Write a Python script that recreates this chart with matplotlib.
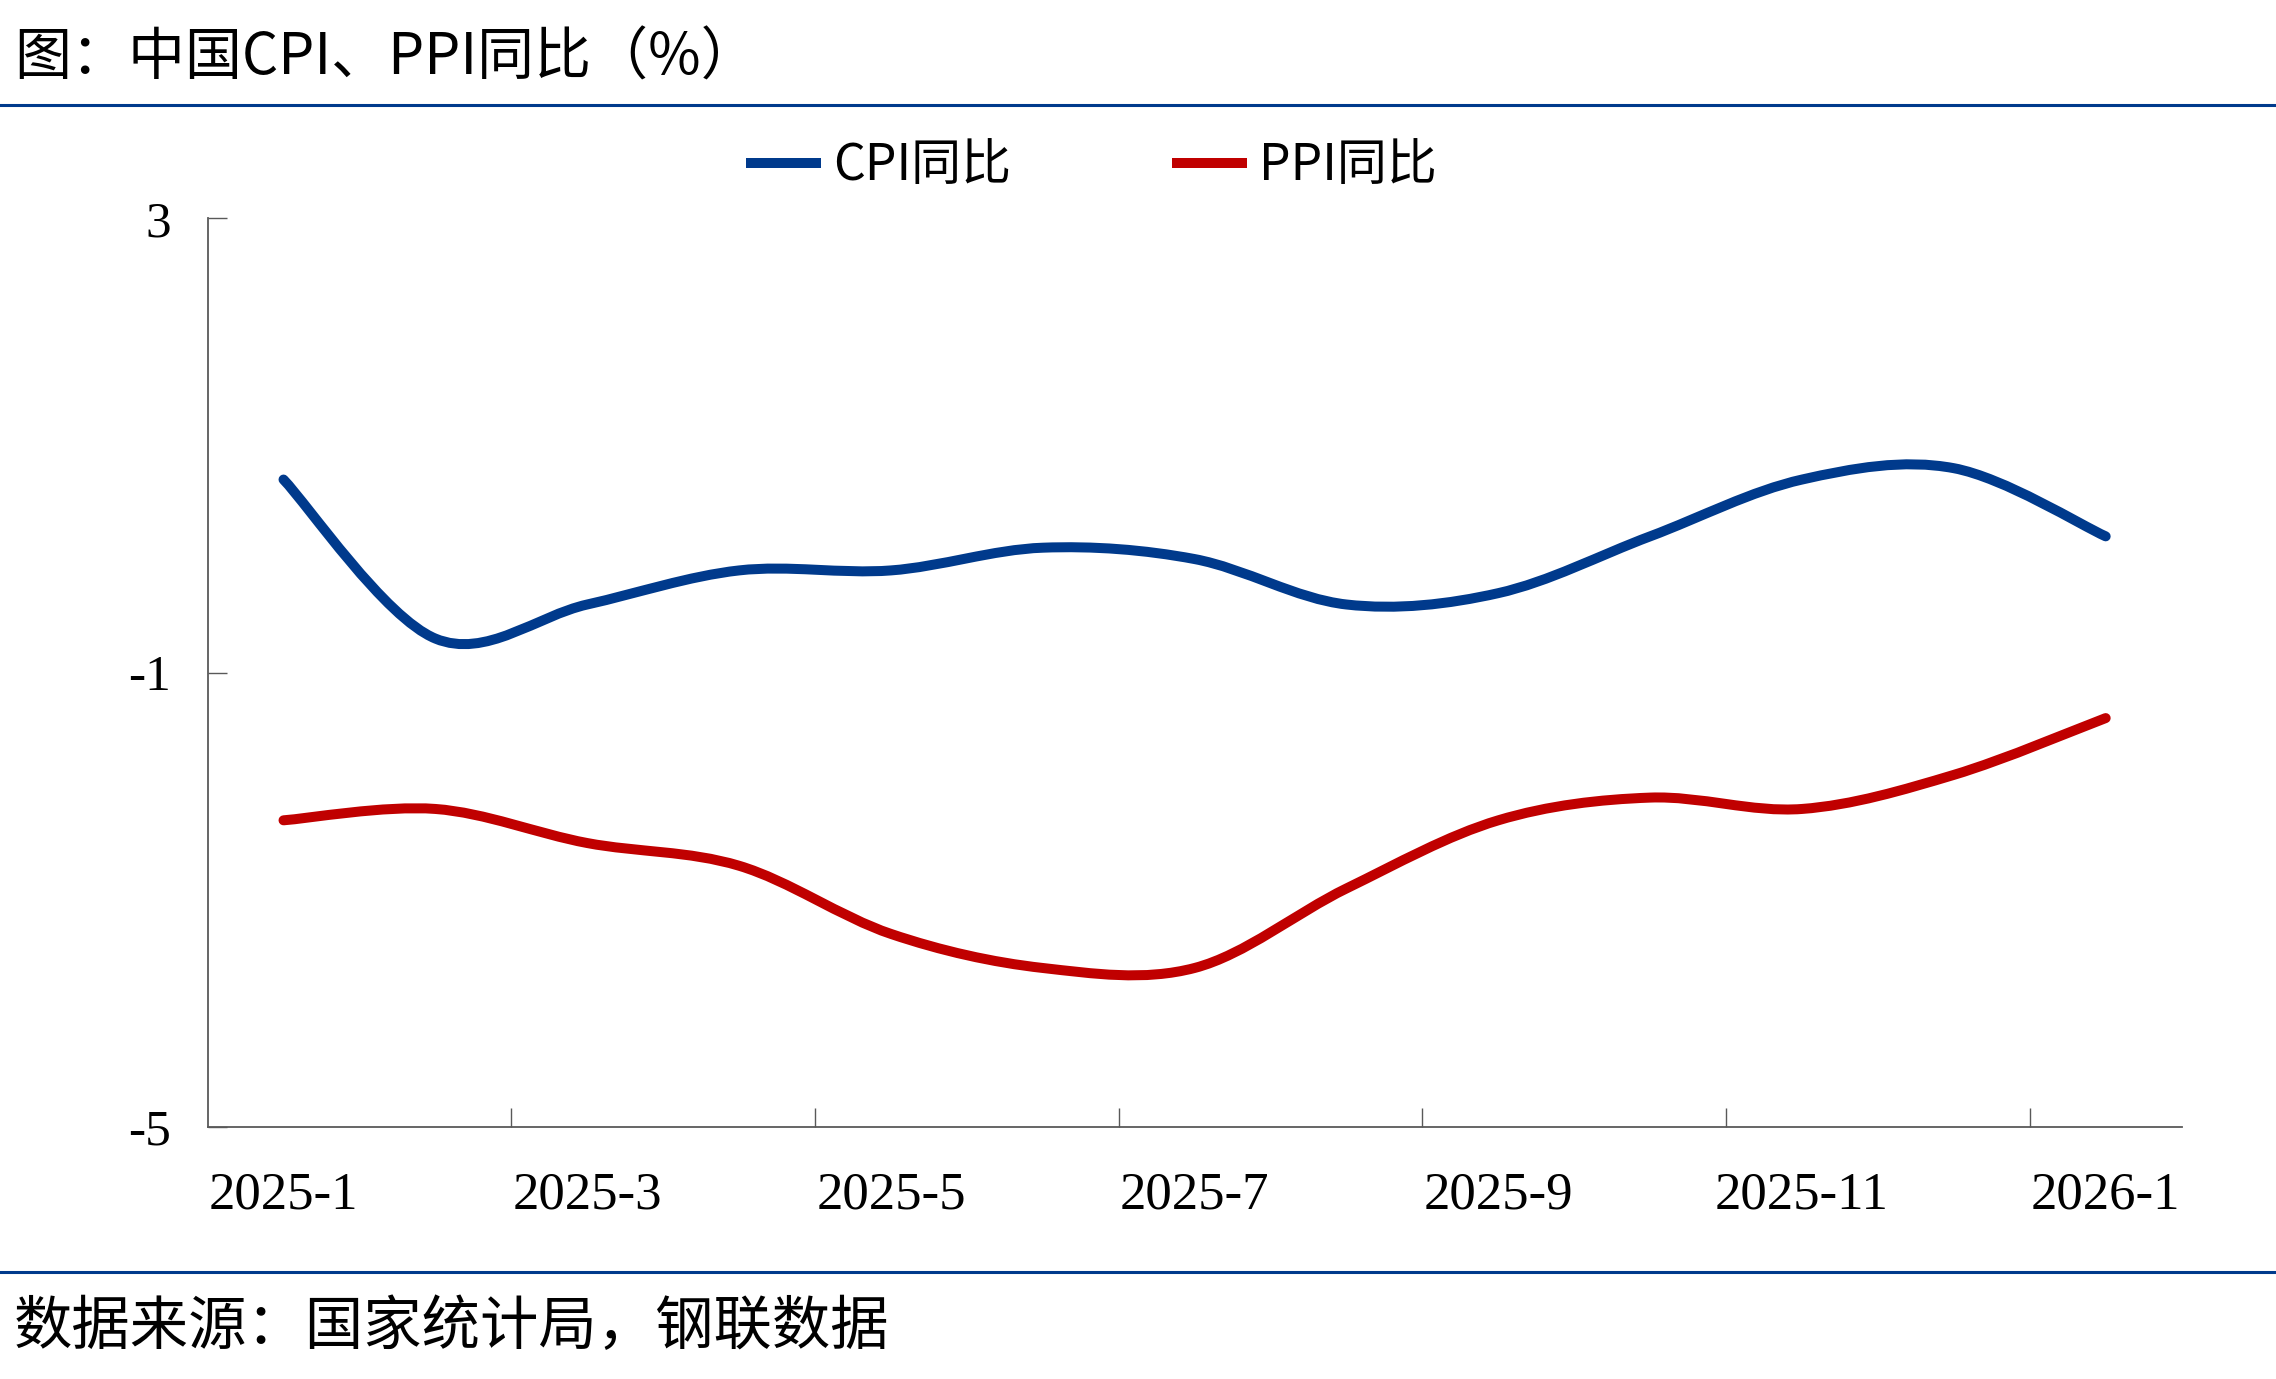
import matplotlib
matplotlib.use("Agg")
import matplotlib.pyplot as plt
from matplotlib.path import Path
from matplotlib.patches import PathPatch
from matplotlib.lines import Line2D
import numpy as np

# ---------------- data ----------------
months = ["2025-1", "2025-2", "2025-3", "2025-4", "2025-5", "2025-6", "2025-7",
          "2025-8", "2025-9", "2025-10", "2025-11", "2025-12", "2026-1"]
cpi = [0.7, -0.7, -0.4, -0.1, -0.1, 0.1, 0.0, -0.4, -0.3, 0.2, 0.7, 0.8, 0.2]
ppi = [-2.3, -2.2, -2.5, -2.7, -3.3, -3.6, -3.6, -2.9, -2.3, -2.1, -2.2, -1.9, -1.4]
series_names = ["CPI同比", "PPI同比"]
y_ticks = [-5, -1, 3]

title_text = "图：中国CPI、PPI同比（%）"
source_text = "数据来源：国家统计局，钢联数据"

# ---------------- style ----------------
CJK = ["Noto Sans CJK SC", "DejaVu Sans"]
SERIF = ["Liberation Serif", "DejaVu Serif"]
BLUE = "#003A8C"
RED = "#C00000"
AXC = "#595959"

W, H, DPI = 2276, 1379, 100
fig = plt.figure(figsize=(W / DPI, H / DPI), dpi=DPI)
fig.patch.set_facecolor("white")

ax = fig.add_axes([207.6 / W, 1 - 1127 / H, (2181.6 - 207.6) / W, (1127 - 218.3) / H])


def smooth_path(xs, ys):
    """Excel-like smoothed line: cubic Bezier through every data point."""
    P = np.column_stack([xs, ys]).astype(float)
    n = len(P)
    verts = [tuple(P[0])]
    codes = [Path.MOVETO]
    for i in range(n - 1):
        p_prev = P[i - 1] if i > 0 else P[i]
        p_next2 = P[i + 2] if i + 2 < n else P[i + 1]
        c1 = P[i] + (P[i + 1] - p_prev) / 6.0
        c2 = P[i + 1] - (p_next2 - P[i]) / 6.0
        verts += [tuple(c1), tuple(c2), tuple(P[i + 1])]
        codes += [Path.CURVE4] * 3
    return Path(verts, codes)


x = np.arange(len(months))
LW = 7.2
for vals, col in [(cpi, BLUE), (ppi, RED)]:
    patch = PathPatch(smooth_path(x, vals), facecolor="none", edgecolor=col,
                      lw=LW, capstyle="round", joinstyle="round", zorder=3)
    ax.add_patch(patch)

ax.set_xlim(-0.5, len(months) - 0.5)
ax.set_ylim(min(y_ticks), max(y_ticks))

# spines
for s in ["top", "right"]:
    ax.spines[s].set_visible(False)
for s in ["left", "bottom"]:
    ax.spines[s].set_color(AXC)
    ax.spines[s].set_linewidth(1.3)

# y ticks
ax.set_yticks(y_ticks)
ax.set_yticklabels([str(v) for v in y_ticks], family=SERIF, fontsize=37)
ax.tick_params(axis="y", direction="in", length=14, width=1.0, color=AXC, pad=26)

# x ticks: marks at category boundaries every 2 categories, labels every 2 categories
ax.set_xticks(np.arange(1.5, len(months) - 1, 2))
ax.set_xticklabels([])
ax.tick_params(axis="x", which="major", direction="in", length=14, width=1.0, color=AXC)
ax.set_xticks(x[::2], minor=True)
ax.set_xticklabels(months[::2], minor=True, family=SERIF, fontsize=38)
ax.tick_params(axis="x", which="minor", length=0, pad=32)

# legend
handles = [Line2D([0], [0], color=BLUE, lw=LW), Line2D([0], [0], color=RED, lw=LW)]
leg = fig.legend(handles, series_names, loc="center", bbox_to_anchor=(1094 / W, 1 - 166 / H),
                 ncol=2, frameon=False, prop={"family": CJK, "size": 36},
                 handlelength=1.3, handletextpad=0.35, columnspacing=3.3,
                 borderpad=0, borderaxespad=0)

# title, separators, source
fig.text(14 / W, 1 - 58 / H, title_text, family=CJK, fontsize=41, va="center", ha="left")
fig.add_artist(Line2D([0, 1], [1 - 104.5 / H] * 2, color=BLUE, lw=2.2, transform=fig.transFigure))
fig.add_artist(Line2D([0, 1], [1 - 1271.5 / H] * 2, color=BLUE, lw=2.2, transform=fig.transFigure))
fig.text(14 / W, 1 - 1328 / H, source_text, family=CJK, fontsize=42, va="center", ha="left")

fig.savefig("out.png", dpi=DPI, facecolor="white")
